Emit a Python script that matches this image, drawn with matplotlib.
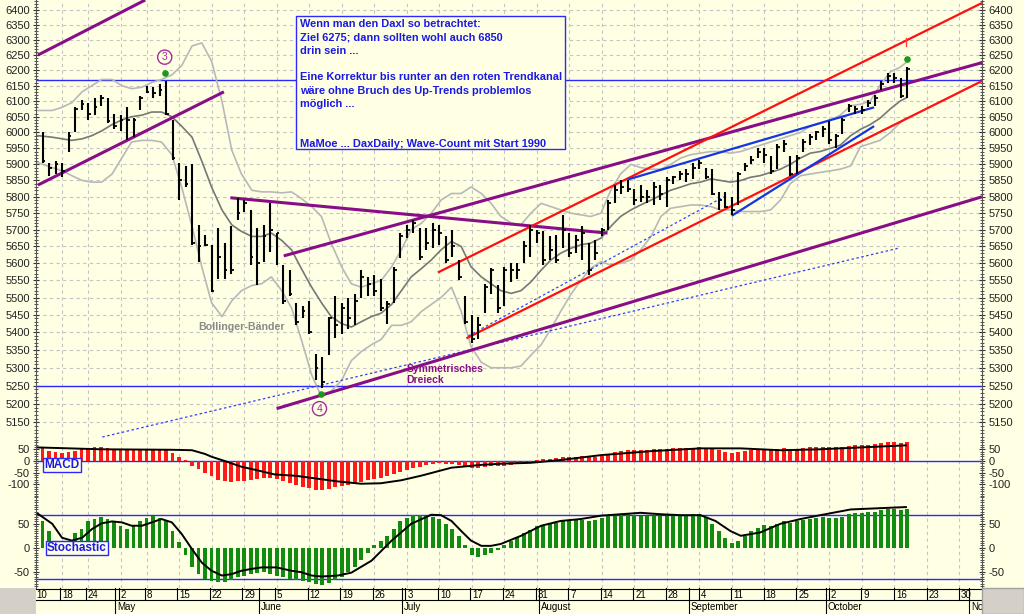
import numpy as np
import pandas as pd
import matplotlib
matplotlib.use("Agg")
import matplotlib.pyplot as plt
from matplotlib.ticker import FixedLocator, NullFormatter, FuncFormatter
from matplotlib.patches import Rectangle

plt.rcParams["font.family"] = ["Liberation Sans", "DejaVu Sans"]
plt.rcParams["axes.unicode_minus"] = False

# ---------------------------------------------------------------- data
# trading calendar (Xetra 2006), x axis is the trading-day index
holidays = ["2006-04-14", "2006-04-17", "2006-05-01"]
days = pd.bdate_range("2006-04-10", "2006-11-01")
days = days[~days.isin(pd.to_datetime(holidays))]
month_names = {5: "May", 6: "June", 7: "July", 8: "August", 9: "September",
               10: "October", 11: "Nov"}

# daily bars Apr 11 .. Oct 18 (index 1..134)
high = [6000, 5905, 5910, 5905, 6000, 6080, 6105, 6095, 6110, 6120,
        6110, 6060, 6055, 6080, 6045, 6115, 6150, 6145, 6155, 6165,
        6040, 5905, 5895, 5900, 5715, 5685, 5655, 5705, 5660, 5710,
        5795, 5790, 5760, 5705, 5715, 5780, 5690, 5595, 5580, 5485,
        5475, 5490, 5340, 5330, 5445, 5505, 5485, 5500, 5510, 5580,
        5560, 5565, 5555, 5490, 5590, 5690, 5715, 5730, 5705, 5705,
        5720, 5715, 5680, 5700, 5610, 5505, 5450, 5445, 5540, 5585,
        5535, 5590, 5600, 5600, 5665, 5715, 5700, 5695, 5680, 5685,
        5745, 5690, 5685, 5710, 5660, 5670, 5705, 5790, 5835, 5850,
        5850, 5825, 5835, 5820, 5845, 5835, 5860, 5865, 5880, 5885,
        5905, 5915, 5890, 5885, 5815, 5815, 5800, 5875, 5905, 5925,
        5950, 5950, 5925, 5965, 5975, 5925, 5930, 5980, 5995, 6005,
        6020, 6035, 5995, 6045, 6090, 6085, 6085, 6105, 6120, 6165,
        6190, 6190, 6175, 6210]
low = [5905, 5865, 5870, 5860, 5940, 6000, 6070, 6040, 6055, 6085,
       6030, 6010, 6005, 5975, 5985, 6070, 6125, 6110, 6115, 6055,
       5915, 5790, 5830, 5655, 5605, 5650, 5515, 5555, 5555, 5570,
       5730, 5755, 5595, 5535, 5605, 5635, 5595, 5480, 5505, 5420,
       5440, 5395, 5265, 5245, 5335, 5385, 5395, 5410, 5420, 5500,
       5505, 5505, 5460, 5425, 5485, 5615, 5675, 5690, 5610, 5640,
       5645, 5655, 5600, 5620, 5550, 5425, 5370, 5380, 5455, 5510,
       5455, 5475, 5545, 5555, 5600, 5620, 5660, 5595, 5610, 5600,
       5645, 5620, 5630, 5610, 5565, 5610, 5680, 5700, 5780, 5810,
       5815, 5775, 5785, 5780, 5775, 5790, 5770, 5840, 5850, 5845,
       5855, 5885, 5855, 5805, 5760, 5765, 5745, 5775, 5880, 5900,
       5920, 5905, 5870, 5885, 5940, 5865, 5870, 5940, 5960, 5975,
       5985, 5965, 5950, 5995, 6065, 6060, 6060, 6080, 6085, 6135,
       6160, 6160, 6110, 6110]
close = [5910, 5890, 5900, 5880, 5990, 6075, 6090, 6060, 6080, 6110,
         6035, 6020, 6040, 6040, 6040, 6110, 6130, 6125, 6135, 6060,
         5920, 5850, 5840, 5660, 5650, 5655, 5520, 5620, 5580, 5580,
         5750, 5780, 5620, 5600, 5680, 5700, 5690, 5490, 5510, 5430,
         5460, 5400, 5300, 5260, 5440, 5420, 5470, 5440, 5490, 5560,
         5540, 5520, 5470, 5480, 5580, 5680, 5700, 5720, 5620, 5660,
         5700, 5690, 5610, 5650, 5560, 5430, 5380, 5420, 5530, 5580,
         5470, 5580, 5580, 5580, 5650, 5700, 5690, 5610, 5640, 5610,
         5700, 5630, 5670, 5690, 5580, 5630, 5700, 5780, 5820, 5830,
         5825, 5790, 5800, 5800, 5830, 5810, 5850, 5860, 5870, 5870,
         5890, 5905, 5860, 5810, 5790, 5770, 5760, 5870, 5895, 5915,
         5940, 5930, 5880, 5955, 5965, 5870, 5920, 5970, 5985, 6000,
         6010, 5975, 5990, 6040, 6085, 6075, 6070, 6095, 6110, 6155,
         6180, 6175, 6115, 6205]

# 20-day average and Bollinger bands, read at (index, price)
ma_idx = [0.3, 2.5, 4.0, 5.5, 7.1, 8.6, 10.1, 11.7, 13.2, 14.7, 16.3,
          17.8, 19.3, 20.9, 22.4, 24.0, 25.5, 27.0, 28.6, 30.1, 31.6, 33.2,
          34.7, 36.2, 37.8, 39.3, 40.8, 42.4, 43.9, 45.4, 47.0, 48.5, 50.0,
          51.6, 53.1, 54.7, 56.2, 57.7, 59.3, 60.8, 62.3, 63.9, 65.4, 66.9,
          68.5, 70.0, 71.5, 73.1, 74.6, 76.1, 77.7, 79.2, 80.7, 82.3, 83.8,
          85.3, 86.9, 88.4, 89.9, 91.5, 93.0, 94.6, 96.1, 97.6, 99.2, 100.7,
          102.2, 103.8, 105.3, 106.8, 108.4, 109.9, 111.4, 113.0, 114.5, 116.0,
          117.6, 119.1, 120.6, 122.2, 123.7, 125.3, 126.8, 128.3, 129.8, 131.4,
          132.9, 133.8]
ma_val = [5990, 5985, 5980, 5975, 5980, 5990, 6005, 6025, 6040, 6050, 6055,
          6065, 6065, 6050, 6020, 5985, 5910, 5830, 5760, 5715, 5695, 5680,
          5680, 5690, 5668, 5640, 5585, 5530, 5485, 5445, 5425, 5415, 5430,
          5445, 5455, 5480, 5520, 5560, 5585, 5610, 5640, 5665, 5650, 5590,
          5560, 5540, 5520, 5512, 5520, 5545, 5580, 5610, 5630, 5645, 5655,
          5660, 5675, 5710, 5740, 5760, 5775, 5790, 5805, 5820, 5830, 5840,
          5845, 5855, 5850, 5845, 5850, 5860, 5865, 5875, 5885, 5900, 5920,
          5935, 5940, 5950, 5960, 5990, 6010, 6025, 6045, 6075, 6100, 6110]
ub_val = [6070, 6070, 6080, 6095, 6130, 6150, 6170, 6170, 6150, 6140, 6145,
          6160, 6170, 6185, 6215, 6280, 6290, 6230, 6100, 5945, 5870, 5820,
          5815, 5815, 5812, 5815, 5795, 5770, 5740, 5660, 5590, 5540, 5530,
          5540, 5550, 5590, 5640, 5700, 5720, 5750, 5790, 5810, 5810, 5830,
          5810, 5780, 5740, 5720, 5715, 5750, 5780, 5770, 5760, 5750, 5745,
          5740, 5750, 5820, 5870, 5900, 5890, 5885, 5885, 5900, 5920, 5930,
          5935, 5940, 5940, 5935, 5940, 5950, 5960, 5970, 5980, 5990, 6000,
          6020, 6030, 6040, 6055, 6085, 6090, 6100, 6150, 6195, 6210, 6225]
lb_val = [5905, 5890, 5880, 5865, 5850, 5845, 5845, 5870, 5920, 5970, 5975,
          5975, 5970, 5930, 5830, 5710, 5590, 5485, 5445, 5490, 5520, 5535,
          5540, 5560, 5520, 5470, 5380, 5280, 5220, 5235, 5265, 5320, 5345,
          5365, 5380, 5420, 5420, 5430, 5460, 5480, 5500, 5530, 5460, 5360,
          5315, 5300, 5300, 5300, 5305, 5335, 5365, 5410, 5460, 5510, 5550,
          5585, 5605, 5595, 5600, 5610, 5640, 5680, 5740, 5765, 5770, 5775,
          5775, 5770, 5760, 5760, 5755, 5755, 5755, 5760, 5790, 5840, 5865,
          5870, 5875, 5880, 5885, 5895, 5955, 5965, 5975, 6000, 6030, 6045]

# MACD bars and signal line
macd = [55, 43, 39, 33, 37, 43, 50, 54, 58, 60, 55, 51, 51, 49, 49, 51, 53,
        53, 49, 46, 35, 18, 4, -20, -35, -50, -65, -80, -88, -90, -85, -86,
        -81, -76, -72, -72, -79, -86, -93, -103, -110, -118, -124, -125,
        -120, -112, -108, -104, -98, -90, -84, -78, -72, -65, -55, -46, -38,
        -30, -25, -18, -12, -10, -12, -15, -18, -24, -29, -30, -26, -22, -22,
        -20, -16, -12, -8, -3, 2, 8, 10, 12, 16, 17, 18, 20, 18, 19, 22, 30,
        37, 42, 45, 46, 47, 48, 50, 50, 52, 54, 55, 56, 57, 58, 56, 50, 45,
        40, 36, 38, 42, 45, 48, 50, 49, 52, 54, 52, 53, 56, 58, 60, 62, 60,
        60, 62, 66, 68, 68, 70, 72, 76, 80, 80, 78, 82]
macd_sig_idx = [0.3, 4, 10, 20.9, 24, 26, 27, 29, 31.6, 34, 36.7, 40, 46.4,
                50, 53, 56.2, 59.3, 63.9, 68.5, 71.5, 76.1, 80.7, 86.9, 94.6,
                102.2, 108.4, 114.5, 120.6, 126.8, 133.8]
macd_sig = [58, 55, 50, 48, 46, 30, 18, 0, -25, -40, -58, -64, -88, -98, -96,
            -83, -63, -29, -17, -12, -8, 4, 25, 42, 54, 54, 46, 50, 58, 67]

# Stochastic bars and signal line
stoch = [55, 35, 15, 5, 12, 30, 40, 55, 60, 65, 60, 55, 45, 40, 45, 55, 62,
         66, 62, 55, 35, 12, -15, -40, -55, -65, -70, -72, -72, -68, -62,
         -58, -55, -52, -50, -55, -58, -62, -66, -68, -70, -72, -75, -78,
         -74, -68, -60, -50, -40, -25, -10, 5, 15, 25, 40, 55, 62, 68, 68,
         66, 65, 60, 50, 40, 25, 5, -15, -20, -15, -10, -5, 5, 15, 22, 30,
         38, 45, 48, 50, 52, 55, 56, 57, 58, 56, 58, 62, 66, 68, 70, 70, 68,
         66, 66, 67, 66, 67, 68, 68, 69, 70, 70, 65, 50, 35, 20, 10, 15, 25,
         35, 42, 48, 45, 50, 55, 52, 55, 58, 60, 62, 64, 62, 62, 65, 70, 72,
         73, 74, 75, 78, 80, 80, 78, 80]
stoch_sig_idx = [0.3, 2.5, 4.0, 5.5, 7.1, 8.6, 10.1, 11.7, 13.2, 14.7, 16.3,
                 17.8, 19.3, 20.9, 22.4, 24.0, 25.5, 27.0, 28.6, 30.1, 31.6,
                 33.2, 34.7, 37.0, 39.3, 40.8, 42.4, 43.9, 46.4, 48.5, 51.6,
                 54.7, 57.7, 60.8, 62.3, 63.9, 65.4, 66.9, 68.5, 70.0, 71.5,
                 74.6, 77.7, 80.7, 83.8, 86.9, 89.9, 93.0, 96.1, 99.2, 102.2,
                 104.5, 106.8, 108.4, 111.4, 114.5, 117.6, 120.6, 125.3, 133.8]
stoch_sig = [71, 50, 21, 15, 21, 39, 51, 55, 53, 46, 46, 53, 60, 53, 29, -3,
             -31, -48, -58, -55, -48, -44, -41, -41, -48, -51, -58, -60, -58,
             -52, -27, 15, 50, 69, 68, 56, 35, 15, 4, 4, 8, 25, 46, 56, 60,
             67, 70, 73, 70, 68, 68, 56, 35, 25, 32, 50, 60, 68, 80, 85]
stoch_levels = [69, -65]

# drawn trend lines: ((index, price), (index, price)), colour key
trend_lines = [
    ((0.3, 6250), (16.8, 6434), "purple"),
    ((0.3, 5836), (28.9, 6130), "purple"),
    ((29.9, 5797), (87.9, 5690), "purple"),
    ((37.0, 5187), (145.5, 5800), "purple"),
    ((38.1, 5622), (145.5, 6225), "purple"),
    ((61.8, 5573), (145.5, 6424), "red"),
    ((66.2, 5383), (145.5, 6165), "red"),
    ((91.0, 5853), (128.9, 6080), "blue"),
    ((107.0, 5742), (128.9, 6020), "blue"),
]
dotted_lines = [((10.2, 5110), (132.9, 5646)), ((66.5, 5390), (105.8, 5800))]
h_levels = [6168, 5248]
wave_marks = [(19.8, 6243, "3"), (43.6, 5187, "4")]
green_dots = [(19.9, 6191), (43.8, 5226), (133.9, 6237)]

note_lines = ["Wenn man den Daxl so betrachtet:",
              "Ziel 6275; dann sollten wohl auch 6850",
              "drin sein ...", "",
              "Eine Korrektur bis runter an den roten Trendkanal",
              "wäre ohne Bruch des Up-Trends problemlos",
              "möglich ...", "", "",
              "MaMoe ... DaxDaily; Wave-Count mit Start 1990"]

# ---------------------------------------------------------------- style
bg = "#FFFFE3"
grid_c = "#C4C4C4"
colors = {"purple": "#880E88", "red": "#FF1010", "blue": "#1434E6"}
W, H = 1024, 614
X0, X1 = 0.32, 145.5
idx = np.arange(1, len(close) + 1)

def rect(x0, y0, x1, y1):
    return [x0 / W, 1 - y1 / H, (x1 - x0) / W, (y1 - y0) / H]

fig = plt.figure(figsize=(W / 100, H / 100), dpi=100, facecolor=bg)
ax_p = fig.add_axes(rect(36, 0, 982, 440))
ax_m = fig.add_axes(rect(36, 440, 982, 497))
ax_s = fig.add_axes(rect(36, 497, 982, 588))
ax_d = fig.add_axes(rect(36, 588, 982, 614))

week_idx = [i for i in range(len(days)) if i == 0 or days[i].weekday() < days[i - 1].weekday()]
month_idx = [i for i in range(1, len(days)) if days[i].month != days[i - 1].month]

for ax in (ax_p, ax_m, ax_s):
    ax.set_facecolor("none")
    ax.set_xlim(X0, X1)
    ax.set_xticks(week_idx)
    ax.tick_params(axis="x", length=0, labelbottom=False)
    ax.grid(True, color=grid_c, ls=(0, (3, 3)), lw=0.8)
    ax.set_axisbelow(True)
    for s in ("top", "bottom"):
        ax.spines[s].set_visible(False)
    for s in ("left", "right"):
        ax.spines[s].set_color("#555555")
    ax.tick_params(axis="y", which="both", left=True, right=True,
                   labelleft=True, labelright=True, direction="inout",
                   labelsize=8, pad=2, colors="#333333", labelcolor="#222222")
    ax.tick_params(axis="y", which="major", length=5)
    ax.tick_params(axis="y", which="minor", length=3)

# ---------------------------------------------------------------- price
ax_p.set_yscale("log")
ax_p.set_ylim(5102, 6434)
ax_p.yaxis.set_major_locator(FixedLocator(range(5150, 6401, 50)))
ax_p.yaxis.set_major_formatter(FuncFormatter(lambda v, p: f"{v:.0f}"))
ax_p.yaxis.set_minor_locator(FixedLocator(range(5110, 6440, 10)))
ax_p.yaxis.set_minor_formatter(NullFormatter())

for lv in h_levels:
    ax_p.axhline(lv, color="#2a2aff", lw=1.0, zorder=2)

ax_p.plot(ma_idx, ub_val, color="#B8B8B8", lw=1.2, zorder=3)
ax_p.plot(ma_idx, lb_val, color="#B8B8B8", lw=1.2, zorder=3)
ax_p.plot(ma_idx, ma_val, color="#777777", lw=1.2, zorder=3)

for (a, b) in dotted_lines:
    ax_p.plot([a[0], b[0]], [a[1], b[1]], color="#3040FF", lw=0.9,
              ls=(0, (2, 2)), zorder=4)
for (a, b, c) in trend_lines:
    lw = 2.2 if c == "purple" else 1.6
    ax_p.plot([a[0], b[0]], [a[1], b[1]], color=colors[c], lw=lw,
              solid_capstyle="butt", zorder=4)

ax_p.vlines(idx, low, high, color="black", lw=1.5, zorder=5)
ax_p.hlines(close, idx, idx + 0.45, color="black", lw=1.3, zorder=5)

ax_p.scatter([d[0] for d in green_dots], [d[1] for d in green_dots],
             s=14, color="#1a9a1a", zorder=6)
for (i, p, t) in wave_marks:
    ax_p.text(i, p, t, ha="center", va="center", fontsize=7.5,
              color="#A0309A", zorder=6,
              bbox=dict(boxstyle="circle,pad=0.2", fc=bg, ec="#A0309A", lw=1))
ax_p.plot([133.8, 133.8], [6280, 6305], color="#FF4040", lw=1, zorder=6)

ax_p.text(24.9, 5416, "Bollinger-Bänder", fontsize=7.7, fontweight="bold",
          color="#8A8A8A", va="center", ha="left", zorder=6)
ax_p.text(57.0, 5311, "Symmetrisches\nDreieck", fontsize=7.5,
          fontweight="bold", color="#880E88", va="top", ha="left",
          linespacing=1.1, zorder=6)

# note box
fig.patches.append(Rectangle((296 / W, 1 - 149 / H), 269 / W, 133 / H,
                             transform=fig.transFigure, fc=bg, ec="#2a2aff",
                             lw=1.0, zorder=10))
for k, line in enumerate(note_lines):
    fig.text(300 / W, 1 - (24 + 13.3 * k) / H, line, fontsize=7.9,
             fontweight="bold", color="#1a1ae6", va="center", ha="left",
             zorder=11)

# ---------------------------------------------------------------- MACD
ax_m.set_ylim(-155, 90)
ax_m.yaxis.set_major_locator(FixedLocator([50, 0, -50, -100]))
ax_m.yaxis.set_minor_locator(FixedLocator(range(-150, 91, 10)))
ax_m.yaxis.set_minor_formatter(NullFormatter())
ax_m.grid(False, axis="y")
ax_m.axhline(0, color="#2a2aff", lw=1.0, zorder=2)
ax_m.bar(idx, macd, width=0.6, color="#FF1A1A", zorder=3)
ax_m.plot(macd_sig_idx, macd_sig, color="black", lw=1.4, zorder=4)
fig.text(44 / W, 1 - 465 / H, "MACD", fontsize=8.5, fontweight="bold",
         color="#1a1ae6", va="center", ha="left",
         bbox=dict(boxstyle="square,pad=0.12", fc=bg, ec="#2a2aff", lw=1))

# ---------------------------------------------------------------- Stochastic
ax_s.set_ylim(-84, 106)
ax_s.yaxis.set_major_locator(FixedLocator([50, 0, -50]))
ax_s.yaxis.set_minor_locator(FixedLocator(range(-80, 106, 5)))
ax_s.yaxis.set_minor_formatter(NullFormatter())
ax_s.grid(False, axis="y")
for lv in stoch_levels:
    ax_s.axhline(lv, color="#2a2aff", lw=1.0, zorder=2)
ax_s.bar(idx, stoch, width=0.6, color="#118C11", zorder=3)
ax_s.plot(stoch_sig_idx, stoch_sig, color="black", lw=1.4, zorder=4)
fig.text(47 / W, 1 - 548 / H, "Stochastic", fontsize=8.5, fontweight="bold",
         color="#1a1ae6", va="center", ha="left",
         bbox=dict(boxstyle="square,pad=0.12", fc=bg, ec="#2a2aff", lw=1))

# ---------------------------------------------------------------- date rows
ax_d.set_xlim(X0, X1)
ax_d.set_ylim(614, 588)
ax_d.axis("off")
ax_d.axhline(588.5, color="black", lw=0.8)
ax_d.axhline(600, color="black", lw=0.8)
for i in week_idx:
    ax_d.plot([i, i], [588, 600], color="black", lw=0.8, clip_on=False)
    ax_d.text(i + 0.3, 594.5, str(days[i].day), fontsize=7, va="center",
              ha="left", clip_on=False)
for i in month_idx:
    ax_d.plot([i - 0.5, i - 0.5], [588, 614], color="black", lw=0.8)
    ax_d.text(i - 0.2, 607.5, month_names[days[i].month], fontsize=7,
              va="center", ha="left", clip_on=True)

fig.patches.append(Rectangle((0, 0), 36 / W, 26 / H, transform=fig.transFigure,
                             fc="#D4D0C8", ec="none", zorder=9))
fig.patches.append(Rectangle((982 / W, 0), 42 / W, 26 / H,
                             transform=fig.transFigure, fc="#D4D0C8",
                             ec="#A0A0A0", lw=1, zorder=9))

fig.savefig("out.png", dpi=100, facecolor=bg)
